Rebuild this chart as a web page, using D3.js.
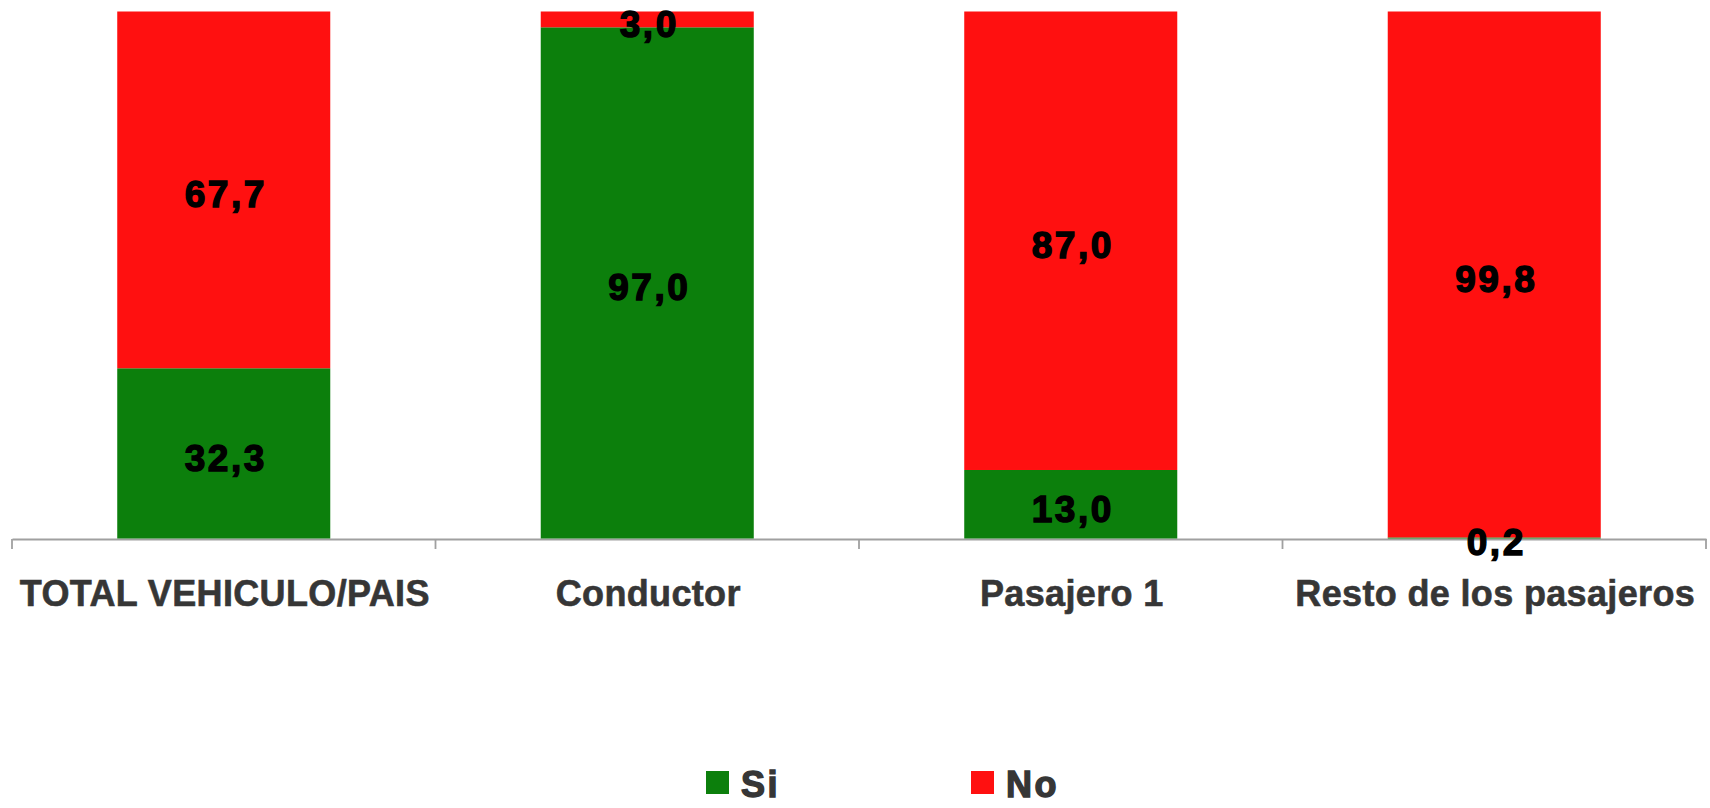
<!DOCTYPE html>
<html>
<head>
<meta charset="utf-8">
<script src="https://cdn.jsdelivr.net/npm/d3@7"></script>
<style>
  html, body { margin: 0; padding: 0; background: #ffffff; }
  svg { display: block; }
</style>
</head>
<body>
<svg id="chart" width="1710" height="808"></svg>
<script>
const categories = ["TOTAL VEHICULO/PAIS", "Conductor", "Pasajero 1", "Resto de los pasajeros"];
const seriesNames = ["Si", "No"];
const siValues = [32.3, 97.0, 13.0, 0.2];
const noValues = [67.7, 3.0, 87.0, 99.8];
const seriesColors = ["#0c7f0c", "#ff1010"];

const svg = d3.select("#chart");

const x = d3.scaleBand().domain(categories).range([12, 1706]).padding(0);
const y = d3.scaleLinear().domain([0, 100]).range([538.5, 11.5]);
const color = d3.scaleOrdinal().domain(seriesNames).range(seriesColors);

const rows = categories.map((c, i) => ({ cat: c, Si: siValues[i], No: noValues[i] }));
const stacked = d3.stack().keys(seriesNames)(rows);

const barW = x.bandwidth() * 0.503;
const fmt = v => d3.format(".1f")(v).replace(".", ",");

// axis (drawn first so labels sit on top)
const axis = d3.axisBottom(x).tickSize(0).tickFormat("");
const axG = svg.append("g").attr("transform", "translate(0,539)").call(axis);
axG.select(".domain").attr("stroke", "#a0a0a0").attr("stroke-width", 1.8);
const bounds = categories.map(c => x(c)).concat([x.range()[1]]);
axG.selectAll("line.bound").data(bounds).join("line")
  .attr("class", "bound")
  .attr("x1", d => d).attr("x2", d => d)
  .attr("y1", 0).attr("y2", 10)
  .attr("stroke", "#a0a0a0").attr("stroke-width", 1.8);

// bars
const layers = svg.append("g").selectAll("g")
  .data(stacked).join("g")
  .attr("fill", d => color(d.key));

layers.selectAll("rect")
  .data(d => d)
  .join("rect")
  .attr("x", d => x(d.data.cat) + (x.bandwidth() - barW) / 2)
  .attr("y", d => y(d[1]))
  .attr("width", barW)
  .attr("height", d => y(d[0]) - y(d[1]));

// category labels
svg.append("g").selectAll("text")
  .data(categories).join("text")
  .attr("x", d => x(d) + x.bandwidth() / 2 + 1)
  .attr("y", 606)
  .attr("text-anchor", "middle")
  .attr("font-family", "'Liberation Sans', Arial, sans-serif")
  .attr("font-weight", "bold")
  .attr("font-size", 36)
  .attr("letter-spacing", "0.35px")
  .attr("fill", "#363636")
  .attr("stroke", "#363636")
  .attr("stroke-width", 0.6)
  .text(d => d);

// value labels
const labelG = svg.append("g");
stacked.forEach(layer => {
  labelG.append("g").selectAll("text")
    .data(layer)
    .join("text")
    .attr("x", d => x(d.data.cat) + x.bandwidth() / 2 + 2)
    .attr("y", d => (y(d[0]) + y(d[1])) / 2 + 4)
    .attr("dy", "0.36em")
    .attr("text-anchor", "middle")
    .attr("font-family", "'Liberation Sans', Arial, sans-serif")
    .attr("font-weight", "bold")
    .attr("font-size", 37)
    .attr("letter-spacing", "2.5px")
    .attr("fill", "#000")
    .attr("stroke", "#000")
    .attr("stroke-width", 1.4)
    .text(d => fmt(d[1] - d[0]));
});

// legend
const legendX = [706, 971];
const lg = svg.append("g").selectAll("g")
  .data(seriesNames).join("g")
  .attr("transform", (d, i) => `translate(${legendX[i]},771)`);
lg.append("rect").attr("width", 23).attr("height", 23).attr("fill", d => color(d));
lg.append("text")
  .attr("x", 35).attr("y", 26)
  .attr("font-family", "'Liberation Sans', Arial, sans-serif")
  .attr("font-weight", "bold")
  .attr("font-size", 36)
  .attr("letter-spacing", "2.5px")
  .attr("fill", "#363636")
  .attr("stroke", "#363636")
  .attr("stroke-width", 1.4)
  .text(d => d);
</script>
</body>
</html>
